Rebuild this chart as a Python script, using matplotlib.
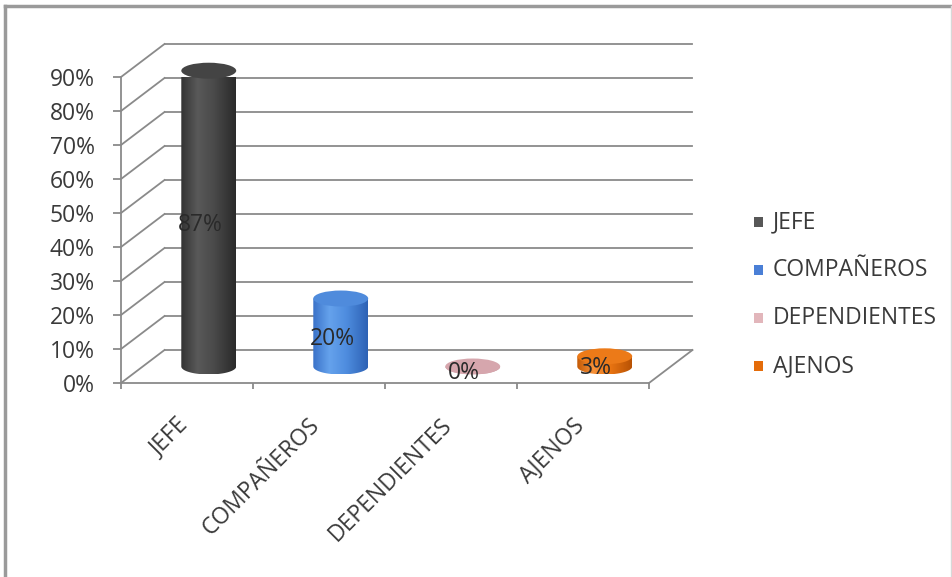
import matplotlib
matplotlib.use("Agg")
import matplotlib.pyplot as plt
import numpy as np
import matplotlib.transforms as mtransforms
from matplotlib.patches import Ellipse, Rectangle, PathPatch
from matplotlib.path import Path
from matplotlib.lines import Line2D
from matplotlib.colors import LinearSegmentedColormap
from matplotlib.ticker import PercentFormatter

# ---- data ----
categories = ["JEFE", "COMPAÑEROS", "DEPENDIENTES", "AJENOS"]
values = [0.87, 0.20, 0.00, 0.03]
value_labels = ["87%", "20%", "0%", "3%"]
y_ticks = [0.0, 0.1, 0.2, 0.3, 0.4, 0.5, 0.6, 0.7, 0.8, 0.9]

# ---- style ----
FONT = ["Open Sans", "DejaVu Sans"]
FS = 16.5
TXT = "#3a3a3a"
GRID = "#8a8a8a"
# shading stops across each cylinder (left edge, highlight, middle, right edge)
body_stops = [
    ["#333333", "#595959", "#4a4a4a", "#2a2a2a"],
    ["#3a72c8", "#65a2ec", "#4f8ddf", "#2d62b5"],
    ["#c9959c", "#e3b8be", "#d8a9b0", "#c08a92"],
    ["#c45a05", "#f7923a", "#ea7512", "#b85204"],
]
top_colors = ["#444444", "#4f8bdc", "#d6a6ad", "#ec7a18"]
legend_colors = ["#575757", "#4a7fd6", "#e2b6bb", "#e46c0a"]

plt.rcParams["font.family"] = FONT

W, H, DPI = 953, 577, 100
fig = plt.figure(figsize=(W / DPI, H / DPI), dpi=DPI)
fig.patch.set_facecolor("white")

# front plane of the 3-D box
ax = fig.add_axes([121 / W, (H - 383) / H, 528 / W, 306 / H])
ax.set_facecolor("none")

# depth offsets of the box (pixels toward the back wall)
DX, DY = 43.5, 33.0


def depth(d):
    return ax.transData + mtransforms.ScaledTranslation(
        DX * d / DPI, DY * d / DPI, fig.dpi_scale_trans)


n = len(categories)
back = depth(1.0)
ax.set_xlim(0, n)
ax.set_ylim(0, 0.9)


def edge(p, q):
    """Line between two points given in display pixels."""
    ax.add_line(Line2D([p[0], q[0]], [p[1], q[1]], transform=None,
                       color=GRID, lw=1.3, clip_on=False, zorder=1))


# back-wall gridlines and side-wall diagonals
for v in y_ticks:
    ax.add_line(Line2D([0, n], [v, v], transform=back, color=GRID,
                       lw=1.3, clip_on=False, zorder=1))
    edge(ax.transData.transform((0, v)), back.transform((0, v)))

# right edge of the floor
edge(ax.transData.transform((n, 0)), back.transform((n, 0)))

# cylinders
mid = depth(0.5)
RX = 0.208
RY = 0.0235
theta = np.linspace(np.pi, 2 * np.pi, 60)
for i, v in enumerate(values):
    cx = i + 0.5
    verts = [(cx - RX, v), (cx - RX, 0)]
    verts += [(cx + RX * np.cos(t), RY * np.sin(t)) for t in theta]
    verts += [(cx + RX, v), (cx - RX, v)]
    codes = [Path.MOVETO] + [Path.LINETO] * (len(verts) - 2) + [Path.CLOSEPOLY]
    body = PathPatch(Path(verts, codes), transform=mid, facecolor="none",
                     edgecolor="none", clip_on=False, zorder=2)
    ax.add_patch(body)
    cmap = LinearSegmentedColormap.from_list(
        "shade%d" % i, list(zip([0.0, 0.3, 0.6, 1.0], body_stops[i])))
    grad = np.linspace(0, 1, 256).reshape(1, -1)
    im = ax.imshow(grad, cmap=cmap, extent=(cx - RX, cx + RX, -RY, v + RY),
                   aspect="auto", transform=mid, zorder=2,
                   interpolation="bilinear")
    im.set_clip_path(body)
    top = Ellipse((cx, v), 2 * RX, 2 * RY, transform=mid,
                  facecolor=top_colors[i], edgecolor="none",
                  clip_on=False, zorder=3)
    ax.add_patch(top)

# value labels
lab_t = depth(0.3)
for i, (v, s) in enumerate(zip(values, value_labels)):
    ax.text(i + 0.5, v / 2, s, transform=lab_t, ha="center", va="center",
            fontsize=FS, color="#2a2a2a", zorder=5, clip_on=False)

# axes, ticks and labels
ax.set_xlim(0, n)
ax.set_ylim(0, 0.9)
for s in ["top", "right"]:
    ax.spines[s].set_visible(False)
for s in ["left", "bottom"]:
    ax.spines[s].set_color(GRID)
    ax.spines[s].set_linewidth(1.3)
ax.set_yticks(y_ticks)
ax.yaxis.set_major_formatter(PercentFormatter(1.0, decimals=0))
ax.tick_params(axis="y", length=5.8, width=1.3, color=GRID, pad=13,
               labelsize=FS, labelcolor=TXT)
ax.set_xticks(np.arange(n + 1))
ax.set_xticklabels([])
ax.set_xticks(np.arange(n) + 0.5, minor=True)
ax.set_xticklabels(categories, minor=True, rotation=45, ha="right",
                   va="top", fontsize=FS, color=TXT)
ax.tick_params(axis="x", which="major", length=4.5, width=1.3, color=GRID)
ax.tick_params(axis="x", which="minor", length=0, pad=22)
shift = mtransforms.ScaledTranslation(6 / DPI, 0, fig.dpi_scale_trans)
for lbl in ax.get_xticklabels(minor=True):
    lbl.set_transform(lbl.get_transform() + shift)

# legend
for i, (name, col) in enumerate(zip(categories, legend_colors)):
    yc = 222 + 48 * i
    fig.add_artist(Rectangle((754 / W, (H - yc - 5) / H), 9 / W, 10 / H,
                             transform=fig.transFigure, facecolor=col,
                             edgecolor="none"))
    fig.text(773 / W, (H - yc) / H, name, ha="left", va="center",
             fontsize=FS, color=TXT)

# chart frame
frame_col = "#9a9a9a"
fig.add_artist(Line2D([5 / W, 5 / W], [0, (H - 6) / H], color=frame_col,
                      lw=2.5, transform=fig.transFigure))
fig.add_artist(Line2D([5 / W, 951 / W], [(H - 6) / H, (H - 6) / H],
                      color=frame_col, lw=2.5, transform=fig.transFigure))
fig.add_artist(Line2D([951 / W, 951 / W], [0, (H - 6) / H], color="#d8d8d8",
                      lw=1.0, transform=fig.transFigure))

fig.savefig("out.png", dpi=DPI, facecolor="white")
